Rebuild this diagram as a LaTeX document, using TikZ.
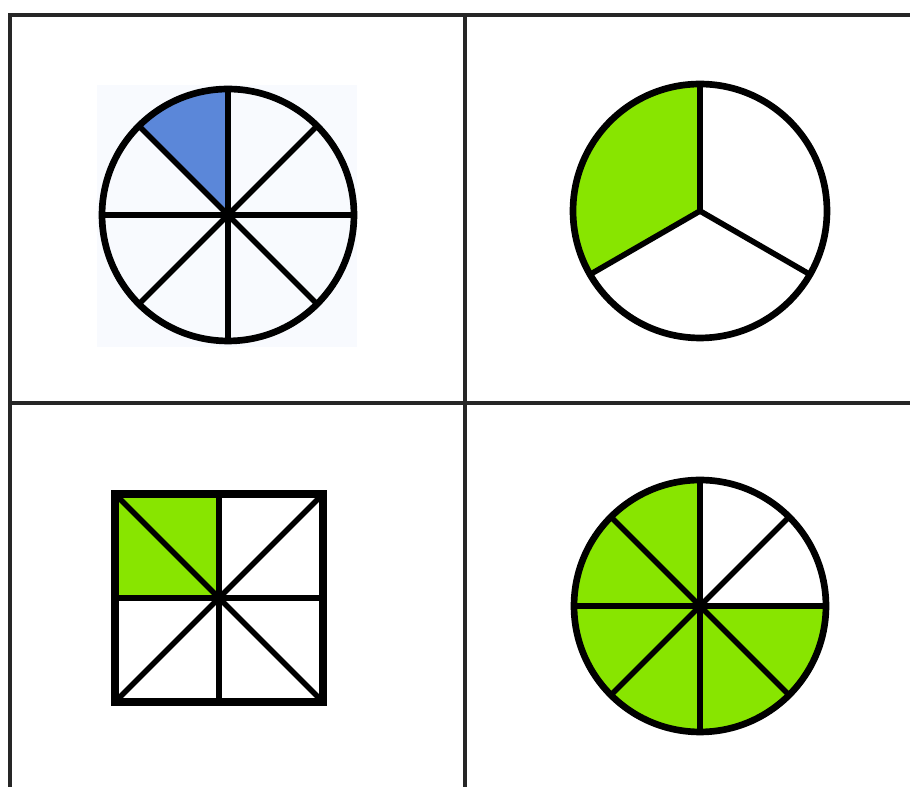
\documentclass[tikz,border=0pt]{standalone}
\usepackage{tikz}
\definecolor{limegreen}{RGB}{136,229,0}
\definecolor{pieblue}{RGB}{91,135,217}
\definecolor{paleblue}{RGB}{248,250,254}

\begin{document}
\begin{tikzpicture}[x=0.02cm, y=0.02cm,
    grid/.style={line width=2pt, black!85},
    rim/.style={draw, line width=3.8pt},
    spoke/.style={line width=3.2pt},
    shade/.style={fill=limegreen}
  ]
    \useasboundingbox (0,0) rectangle (910,787);

    \coordinate (c1) at (228,572);
    \coordinate (c2) at (700,576);
    \coordinate (sq) at (219,189);
    \coordinate (c4) at (700,181);

    \draw[grid] (10,0) |- (910,772);
    \draw[grid] (465,0) -- (465,772);
    \draw[grid] (10,384) -- (910,384);

    \fill[paleblue] (97,440) rectangle (357,702);
    \fill[pieblue] (c1) -- ++(90:126) arc[start angle=90, end angle=135, radius=2.52cm] -- cycle;
    \foreach \a in {0,45,...,315}
      \draw[spoke] (c1) -- ++(\a:126);
    \draw[rim] (c1) circle[radius=2.52cm];

    \fill[shade] (c2) -- ++(90:127) arc[start angle=90, end angle=210, radius=2.54cm] -- cycle;
    \foreach \a in {90,210,330}
      \draw[spoke] (c2) -- ++(\a:127);
    \draw[rim] (c2) circle[radius=2.54cm];

    \fill[shade] (sq) rectangle ++(-104,104);
    \foreach \a in {0,90,180,270}
      \draw[spoke] (sq) -- ++(\a:104);
    \draw[spoke] (sq) ++(-104,-104) -- ++(208,208);
    \draw[spoke] (sq) ++(-104,104) -- ++(208,-208);
    \draw[line width=4.2pt] (sq) ++(-104,-104) rectangle ++(208,208);

    \fill[shade] (c4) -- ++(90:126) arc[start angle=90, end angle=360, radius=2.52cm] -- cycle;
    \foreach \a in {0,45,...,315}
      \draw[spoke] (c4) -- ++(\a:126);
    \draw[rim] (c4) circle[radius=2.52cm];
  \end{tikzpicture}
\end{document}
